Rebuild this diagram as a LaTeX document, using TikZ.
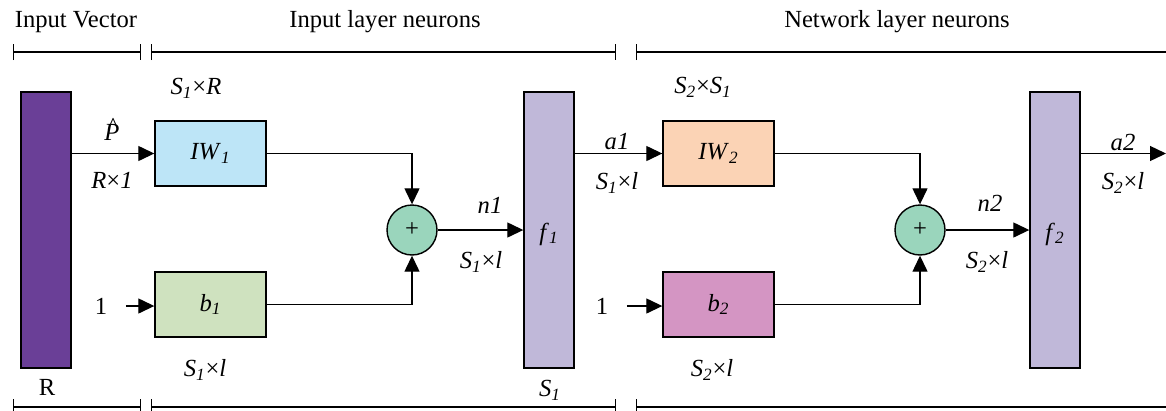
\documentclass[tikz,border=0pt]{standalone}
\usepackage{fontspec}
\setmainfont{Liberation Serif}
\usetikzlibrary{arrows.meta}
\usepackage{xcolor}

\definecolor{inpurple}{HTML}{6A3F97}
\definecolor{fbar}{HTML}{C0B8D9}
\definecolor{iwblue}{HTML}{BDE5F7}
\definecolor{bgreen}{HTML}{CFE2BF}
\definecolor{iwpeach}{HTML}{FBD3B5}
\definecolor{bpink}{HTML}{D495C3}
\definecolor{sumgreen}{HTML}{9AD5BC}

\newcommand{\isub}[2]{\textit{#1}\textsubscript{\textit{#2}}}
\newcommand{\phat}{\ooalign{\textit{P}\cr\hidewidth\raisebox{0.24em}{\^{}}\hspace{-0.1em}\hidewidth\cr}}

\begin{document}
\begin{tikzpicture}[x=0.02cm, y=-0.02cm, font=\fontsize{14pt}{16pt}\selectfont,
    box/.style={draw, line width=0.8pt, minimum width=2.22cm, minimum height=1.3cm, inner sep=0pt},
    bar/.style={draw, line width=0.8pt, minimum width=1cm, minimum height=5.52cm, inner sep=0pt},
    sumnode/.style={draw, circle, line width=0.8pt, fill=sumgreen, minimum size=1cm, inner sep=0pt},
    arr/.style={line width=0.75pt, -{Triangle[length=0.32cm, width=0.3cm]}},
    wire/.style={line width=0.75pt},
    brace/.style={line width=0.75pt, {Bar[width=0.32cm]}-{Bar[width=0.32cm]}}]
    \useasboundingbox (0,0) rectangle (1166,410);

    % Klammern oben und unten
    \node (tin) at (76,22) {Input Vector};
    \node (tlay) at (385,22) {Input layer neurons};
    \node (tnet) at (897,22) {Network layer neurons};
    \draw[brace] (13,52) -- (141,52);
    \draw[brace] (151,52) -- (616,52);
    \draw[wire, {Bar[width=0.32cm]}-] (636,52) -- (1166,52);
    \draw[brace] (13,407) -- (141,407);
    \draw[brace] (151,407) -- (616,407);
    \draw[wire, {Bar[width=0.32cm]}-] (636,407) -- (1166,407);

    % Eingangsvektor
    \node[bar, fill=inpurple] (inbar) at (46,230) {};
    \node (rlab) at (47,387) {R};

    % Eingangsschicht
    \node[box, fill=iwblue] (iw1) at (210.5,153.5) {\isub{IW}{1}};
    \node[box, fill=bgreen] (b1) at (210.5,304.5) {\isub{b}{1}};
    \node (one1) at (101,306) {1};
    \node[sumnode] (sum1) at (412,230) {+};
    \node[bar, fill=fbar] (f1) at (549,230) {};
    \node (f1lab) at (549,234) {\isub{f}{1}};

    % Netzschicht
    \node[box, fill=iwpeach] (iw2) at (718.5,153.5) {\isub{IW}{2}};
    \node[box, fill=bpink] (b2) at (718.5,304.5) {\isub{b}{2}};
    \node (one2) at (602,306) {1};
    \node[sumnode] (sum2) at (920,230) {+};
    \node[bar, fill=fbar] (f2) at (1055,230) {};
    \node (f2lab) at (1055,234) {\isub{f}{2}};
    \coordinate (out) at (1166,153.5);

    % Verbindungen
    \draw[arr] (inbar.east |- iw1.west) -- (iw1.west);
    \draw[arr, shorten <=0.25cm] (one1.east) -- (one1.east -| b1.west);
    \draw[arr] (iw1.east) -| (sum1.north);
    \draw[arr] (b1.east) -| (sum1.south);
    \draw[arr] (sum1.east) -- (f1.west |- sum1.east);
    \draw[arr] (f1.east |- iw2.west) -- (iw2.west);
    \draw[arr, shorten <=0.25cm] (one2.east) -- (one2.east -| b2.west);
    \draw[arr] (iw2.east) -| (sum2.north);
    \draw[arr] (b2.east) -| (sum2.south);
    \draw[arr] (sum2.east) -- (f2.west |- sum2.east);
    \draw[arr] (f2.east |- out) -- (out);

    % Beschriftungen
    \node (phatlab) at (112,132) {\phat};
    \node (rx1) at (112,180) {\textit{R}×\textit{1}};
    \node (s1r) at (196,88) {\isub{S}{1}×\textit{R}};
    \node (s1lb) at (205,370) {\isub{S}{1}×\textit{l}};
    \node (n1lab) at (490,205) {\textit{n1}};
    \node (s1ln) at (481,262) {\isub{S}{1}×\textit{l}};
    \node (s1lab) at (550,390) {\isub{S}{1}};
    \node (a1lab) at (617,142) {\textit{a1}};
    \node (s1la) at (617,183) {\isub{S}{1}×\textit{l}};
    \node (s2s1) at (703,87) {\isub{S}{2}×\isub{S}{1}};
    \node (s2lb) at (712,370) {\isub{S}{2}×\textit{l}};
    \node (n2lab) at (990,203) {\textit{n2}};
    \node (s2ln) at (987,262) {\isub{S}{2}×\textit{l}};
    \node (a2lab) at (1123,142) {\textit{a2}};
    \node (s2la) at (1123,183) {\isub{S}{2}×\textit{l}};
\end{tikzpicture}
\end{document}
